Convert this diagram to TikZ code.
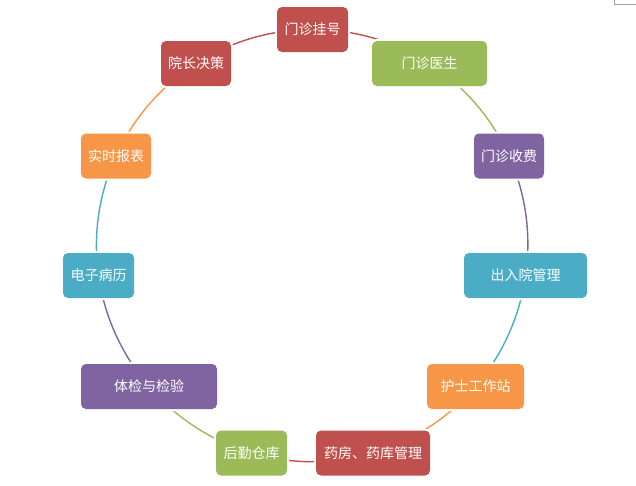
\documentclass[tikz,border=0pt]{standalone}
\usepackage{fontspec}
\newfontfamily\cjk{Noto Sans CJK SC}
\usetikzlibrary{backgrounds}
\definecolor{cred}{HTML}{C0504D}
\definecolor{cgreen}{HTML}{9BBB59}
\definecolor{cpurple}{HTML}{8064A2}
\definecolor{cteal}{HTML}{4BACC6}
\definecolor{corange}{HTML}{F79646}
\definecolor{cmark}{HTML}{A0A0A0}
\begin{document}
\begin{tikzpicture}[x=1pt,y=-1pt,
  box/.style={rounded corners=5pt, minimum height=45pt, inner sep=0pt, text=white,
    font=\cjk\fontsize{14}{16}\selectfont, preaction={draw=white,line width=4pt}},
  link/.style={line width=1.4pt, bend left=16.36, looseness=0.87}]
\useasboundingbox (0,0) rectangle (636,485);
\draw[cmark, line width=0.8pt] (614,0) -- (614,4) -- (636,4);
\node[box, fill=cred,    minimum width=71pt]  (n1)  at (312.5,29.5) {门诊挂号};
\node[box, fill=cgreen,  minimum width=115pt] (n2)  at (429.5,63.5) {门诊医生};
\node[box, fill=cpurple, minimum width=70pt]  (n3)  at (509,156)    {门诊收费};
\node[box, fill=cteal,   minimum width=123pt] (n4)  at (525.5,275.5){出入院管理};
\node[box, fill=corange, minimum width=97pt]  (n5)  at (475.5,386.5){护士工作站};
\node[box, fill=cred,    minimum width=114pt] (n6)  at (373,453)    {药房、药库管理};
\node[box, fill=cgreen,  minimum width=71pt]  (n7)  at (251.5,453)  {后勤仓库};
\node[box, fill=cpurple, minimum width=136pt] (n8)  at (149,386.5)  {体检与检验};
\node[box, fill=cteal,   minimum width=71pt]  (n9)  at (98.5,275.5) {电子病历};
\node[box, fill=corange, minimum width=70pt]  (n10) at (116,156)    {实时报表};
\node[box, fill=cred,    minimum width=70pt]  (n11) at (196,63.5)   {院长决策};
\begin{scope}[on background layer]
\draw[link, cred]    (n1.center)  to (n2.center);
\draw[link, cgreen]  (n2.center)  to (n3.center);
\draw[link, cpurple] (n3.center)  to (n4.center);
\draw[link, cteal]   (n4.center)  to (n5.center);
\draw[link, corange] (n5.center)  to (n6.center);
\draw[link, cred]    (n6.center)  to (n7.center);
\draw[link, cgreen]  (n7.center)  to (n8.center);
\draw[link, cpurple] (n8.center)  to (n9.center);
\draw[link, cteal]   (n9.center)  to (n10.center);
\draw[link, corange] (n10.center) to (n11.center);
\draw[link, cred]    (n11.center) to (n1.center);
\end{scope}
\end{tikzpicture}
\end{document}
